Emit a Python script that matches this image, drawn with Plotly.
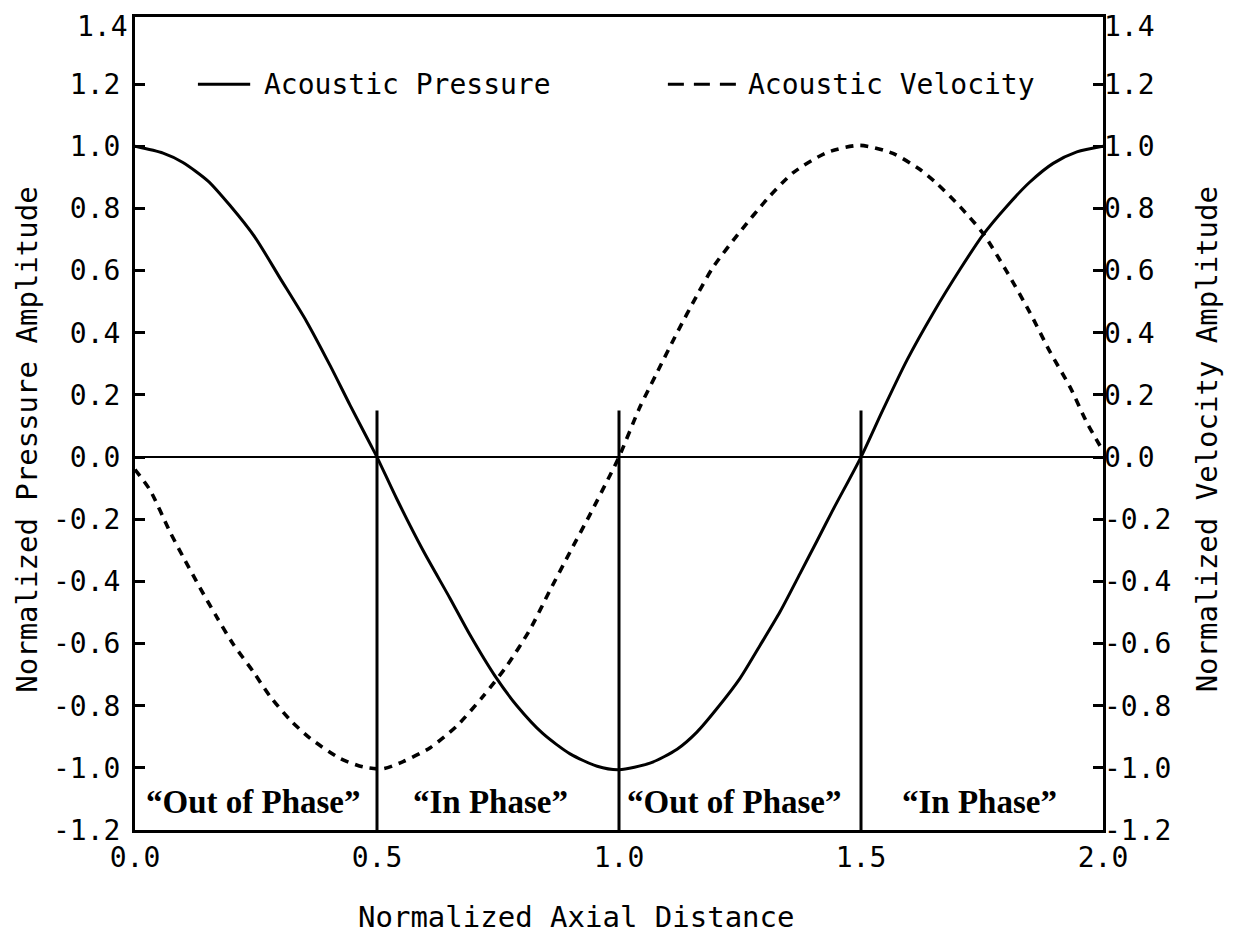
import plotly.graph_objects as go

# ---- data ----
pressure_x = [0.0, 0.058, 0.099, 0.151, 0.196, 0.248, 0.300, 0.355, 0.403, 0.444, 0.486, 0.5,
              0.541, 0.595, 0.651, 0.692, 0.744, 0.789, 0.843, 0.899, 0.955, 1.0,
              1.064, 1.12, 1.161, 1.202, 1.25, 1.291, 1.333, 1.374, 1.409, 1.442, 1.5,
              1.545, 1.595, 1.649, 1.705, 1.752, 1.80, 1.849, 1.897, 1.946, 2.0]
pressure_y = [1.0, 0.978, 0.948, 0.888, 0.81, 0.707, 0.575, 0.435, 0.295, 0.168, 0.042, 0.0,
              -0.135, -0.3, -0.455, -0.572, -0.705, -0.80, -0.89, -0.955, -0.995, -1.006,
              -0.985, -0.94, -0.885, -0.81, -0.712, -0.607, -0.497, -0.375, -0.27, -0.17, 0.0,
              0.151, 0.312, 0.463, 0.605, 0.715, 0.805, 0.885, 0.945, 0.982, 1.0]

velocity_x = [0.0, 0.031, 0.072, 0.099, 0.134, 0.169, 0.202, 0.244, 0.279, 0.32, 0.362, 0.424,
              0.471, 0.512, 0.554, 0.61, 0.665, 0.719, 0.769, 0.816, 0.857, 0.899, 0.94, 0.981,
              1.0, 1.043, 1.078, 1.12, 1.161, 1.194, 1.25, 1.306, 1.36, 1.43, 1.498, 1.566,
              1.622, 1.657, 1.705, 1.752, 1.80, 1.849, 1.89, 1.932, 1.967, 2.0]
velocity_y = [-0.04, -0.106, -0.24, -0.32, -0.42, -0.515, -0.6, -0.69, -0.77, -0.845, -0.905,
              -0.97, -0.997, -1.003, -0.98, -0.935, -0.865, -0.77, -0.67, -0.555, -0.43, -0.305,
              -0.185, -0.06, 0.0, 0.16, 0.27, 0.4, 0.52, 0.61, 0.725, 0.83, 0.915, 0.98, 1.003,
              0.977, 0.925, 0.88, 0.805, 0.72, 0.6, 0.465, 0.34, 0.225, 0.11, 0.02]

boundaries = [0.5, 1.0, 1.5]
boundary_top = 0.15

region_labels = ["\u201cOut of Phase\u201d", "\u201cIn Phase\u201d",
                 "\u201cOut of Phase\u201d", "\u201cIn Phase\u201d"]
region_centers = [0.245, 0.735, 1.238, 1.744]

x_ticks = [0.0, 0.5, 1.0, 1.5, 2.0]
x_ticktext = ["0.0", "0.5", "1.0", "1.5", "2.0"]
y_ticks = [1.4, 1.2, 1.0, 0.8, 0.6, 0.4, 0.2, 0.0, -0.2, -0.4, -0.6, -0.8, -1.0, -1.2]
y_ticktext = ["1.4", "1.2", "1.0", "0.8", "0.6", "0.4", "0.2", "0.0",
              "-0.2", "-0.4", "-0.6", "-0.8", "-1.0", "-1.2"]

MONO = "DejaVu Sans Mono"
SERIF = "Liberation Serif"
YR = [-1.2, 1.416]

fig = go.Figure()
fig.add_trace(go.Scatter(x=pressure_x, y=pressure_y, mode="lines", name="Acoustic Pressure",
                         line=dict(color="black", width=3, shape="spline", smoothing=0.7)))
fig.add_trace(go.Scatter(x=velocity_x, y=velocity_y, mode="lines", name="Acoustic Velocity",
                         yaxis="y2",
                         line=dict(color="black", width=3.6, dash="8px,7px", shape="spline",
                                   smoothing=0.7)))

shapes = []
for b in boundaries:
    shapes.append(dict(type="line", xref="x", yref="y", x0=b, x1=b, y0=YR[0], y1=boundary_top,
                       line=dict(color="black", width=3)))
# legend samples
shapes.append(dict(type="line", xref="x", yref="y", x0=0.130, x1=0.238, y0=1.2, y1=1.2,
                   line=dict(color="black", width=3)))
shapes.append(dict(type="line", xref="x", yref="y", x0=1.101, x1=1.244, y0=1.2, y1=1.2,
                   line=dict(color="black", width=3, dash="16px,10px")))

annotations = []
annotations.append(dict(x=0.262, y=1.2, xref="x", yref="y", text="Acoustic Pressure",
                        showarrow=False, xanchor="left", yanchor="middle",
                        font=dict(family=MONO, size=28, color="black")))
annotations.append(dict(x=1.262, y=1.2, xref="x", yref="y", text="Acoustic Velocity",
                        showarrow=False, xanchor="left", yanchor="middle",
                        font=dict(family=MONO, size=28, color="black")))
for t, c in zip(region_labels, region_centers):
    annotations.append(dict(x=c, y=-1.11, xref="x", yref="y", text="<b>" + t + "</b>",
                            showarrow=False, xanchor="center", yanchor="middle",
                            font=dict(family=SERIF, size=33, color="black")))
# top tick labels (1.4) drawn as annotations so they are not dropped at the page edge
annotations.append(dict(x=0, y=y_ticks[0], xref="paper", yref="y", text=y_ticktext[0],
                        showarrow=False, xanchor="right", yanchor="middle", xshift=-6,
                        yshift=-5, borderpad=0,
                        font=dict(family=MONO, size=28, color="black")))
annotations.append(dict(x=1, y=y_ticks[0], xref="paper", yref="y", text=y_ticktext[0],
                        showarrow=False, xanchor="left", yanchor="middle", xshift=0,
                        yshift=-5, borderpad=0,
                        font=dict(family=MONO, size=28, color="black")))
annotations.append(dict(x=0.4566, y=-0.107, xref="paper", yref="paper",
                        text="Normalized Axial Distance", showarrow=False,
                        xanchor="center", yanchor="middle",
                        font=dict(family=MONO, size=29, color="black")))
annotations.append(dict(x=-0.1116, y=0.48, xref="paper", yref="paper",
                        text="Normalized Pressure Amplitude", showarrow=False, textangle=-90,
                        xanchor="center", yanchor="middle",
                        font=dict(family=MONO, size=29, color="black")))
annotations.append(dict(x=1.107, y=0.48, xref="paper", yref="paper",
                        text="Normalized Velocity Amplitude", showarrow=False, textangle=-90,
                        xanchor="center", yanchor="middle",
                        font=dict(family=MONO, size=29, color="black")))

tick_vals_body = y_ticks[1:]
tick_text_body = y_ticktext[1:]

fig.update_layout(
    width=1234, height=941,
    margin=dict(l=127, r=139, t=9, b=119),
    paper_bgcolor="white", plot_bgcolor="white",
    showlegend=False,
    shapes=shapes, annotations=annotations,
    xaxis=dict(range=[0, 2], tickvals=x_ticks, ticktext=x_ticktext, ticks="",
               showgrid=False, zeroline=False, showline=True, mirror=True,
               linecolor="black", linewidth=3, automargin=False,
               tickfont=dict(family=MONO, size=28, color="black")),
    yaxis=dict(range=YR, tickvals=tick_vals_body, ticktext=tick_text_body, ticks="inside",
               ticklen=10, tickwidth=2.5, tickcolor="black",
               showgrid=False, zeroline=True, zerolinecolor="black", zerolinewidth=2,
               showline=True, mirror=True, linecolor="black", linewidth=3,
               ticklabelstandoff=6, automargin=False,
               tickfont=dict(family=MONO, size=28, color="black")),
    yaxis2=dict(range=YR, tickvals=tick_vals_body, ticktext=tick_text_body, ticks="inside",
                ticklen=10, tickwidth=2.5, tickcolor="black",
                overlaying="y", side="right", showgrid=False, zeroline=False,
                showline=False, automargin=False,
                tickfont=dict(family=MONO, size=28, color="black")),
)

fig.write_html("out.html")
